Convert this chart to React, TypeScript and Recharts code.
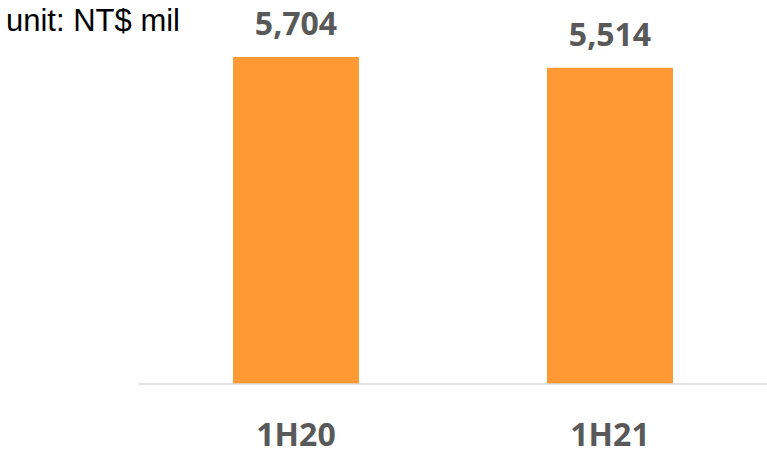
import React from 'react';
import { BarChart, Bar, XAxis, YAxis, LabelList } from 'recharts';

const categories = ['1H20', '1H21'];
const revenue = [5704, 5514];
const unitLabel = 'unit: NT$ mil';

const data = categories.map((c, i) => ({ name: c, value: revenue[i] }));

const fmt = (v: number) => v.toLocaleString('en-US');

const Tick = (props: any) => {
  const { x, y, payload } = props;
  return (
    <text x={x} y={y + 54} textAnchor="middle" fill="#595959" fontFamily="'Open Sans', sans-serif" fontWeight={700} fontSize={32}>
      {payload.value}
    </text>
  );
};

export default function App() {
  return (
    <div style={{ position: 'absolute', left: 0, top: 0, width: 767, height: 454, background: '#fff' }}>
      <BarChart width={767} height={454} data={data} margin={{ top: 40, right: 0, bottom: 0, left: 139 }}>
        <XAxis dataKey="name" height={70} tickLine={false} axisLine={{ stroke: '#d9d9d9', strokeWidth: 1.5 }} tick={<Tick />} interval={0} />
        <YAxis hide domain={[0, 6000]} />
        <Bar dataKey="value" fill="#FF9933" barSize={126} isAnimationActive={false}>
          <LabelList dataKey="value" position="top" offset={22} formatter={(v: any) => fmt(Number(v))} fill="#595959" fontFamily="'Open Sans', sans-serif" fontWeight={700} fontSize={32} />
        </Bar>
      </BarChart>
      <div style={{ position: 'absolute', left: 6, top: 3, fontFamily: "'Liberation Sans', Arial, sans-serif", fontSize: 31, lineHeight: '36px', color: '#000', whiteSpace: 'nowrap' }}>
        {unitLabel}
      </div>
    </div>
  );
}
